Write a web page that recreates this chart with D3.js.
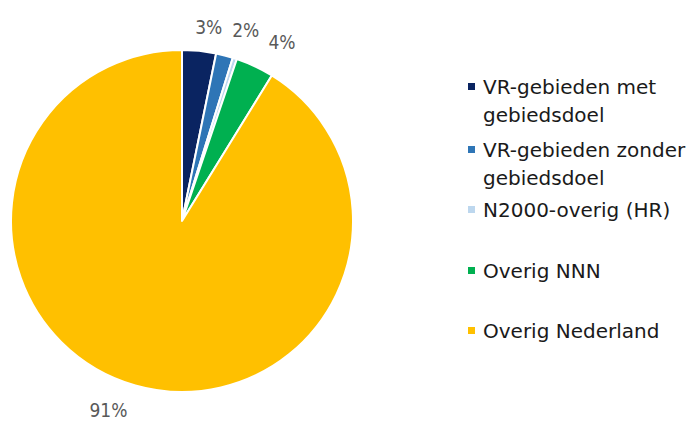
<!DOCTYPE html>
<html><head><meta charset="utf-8">
<script src="https://cdn.jsdelivr.net/npm/d3@7"></script>
<style>
html,body{margin:0;padding:0;background:#fff;}
svg{display:block;font-family:"DejaVu Sans",sans-serif;}
</style></head>
<body>
<svg id="chart" width="691" height="421"></svg>
<script>
const categories = ["VR-gebieden met gebiedsdoel","VR-gebieden zonder gebiedsdoel","N2000-overig (HR)","Overig NNN","Overig Nederland"];
const legendLines = [["VR-gebieden met","gebiedsdoel"],["VR-gebieden zonder","gebiedsdoel"],["N2000-overig (HR)"],["Overig NNN"],["Overig Nederland"]];
const values = [3.2, 1.6, 0.4, 3.6, 91.2];
const labels = ["3%","2%","","4%","91%"];
const colors = ["#0a2461","#2e75b6","#bdd7ee","#00b050","#ffc000"];
const labelNudgeDeg = [2.1, 4.1, 0, 4.0, 5.4];
const labelRadius = [196, 201, 200, 205, 203];

const svg = d3.select("#chart");
const cx = 182, cy = 221, R = 171;
const g = svg.append("g").attr("transform", `translate(${cx},${cy})`);

const pie = d3.pie().sort(null).value(d => d);
const arcs = pie(values);
const arc = d3.arc().innerRadius(0).outerRadius(R);

g.selectAll("path").data(arcs).join("path")
  .attr("d", arc)
  .attr("fill", (d,i) => colors[i])
  .attr("stroke", "#fff")
  .attr("stroke-width", 2)
  .attr("stroke-linejoin", "round");

g.selectAll("text.lbl").data(arcs).join("text")
  .attr("class","lbl")
  .each(function(d,i){
    const a = (d.startAngle + d.endAngle)/2 + labelNudgeDeg[i]*Math.PI/180;
    const r = labelRadius[i];
    d3.select(this)
      .attr("x", r*Math.sin(a))
      .attr("y", -r*Math.cos(a))
      .attr("dy","0.35em");
  })
  .attr("text-anchor","middle")
  .attr("font-family", "'DejaVu Sans Condensed','DejaVu Sans',sans-serif")
  .attr("font-size", 19)
  .attr("fill", "#595959")
  .text((d,i) => labels[i]);

// legend
const legendX = 468, textX = 483;
const itemBaselines = [94, 157, 217, 278, 338];
const lineH = 28;
const lg = svg.append("g");
categories.forEach((c,i) => {
  lg.append("rect").attr("x", legendX).attr("y", itemBaselines[i]-11).attr("width",7).attr("height",7).attr("fill",colors[i]);
  legendLines[i].forEach((t,j) => {
    lg.append("text").attr("x", textX).attr("y", itemBaselines[i] + j*lineH)
      .attr("font-size", 20).attr("fill", "#1a1a1a").text(t);
  });
});
</script>
</body></html>
